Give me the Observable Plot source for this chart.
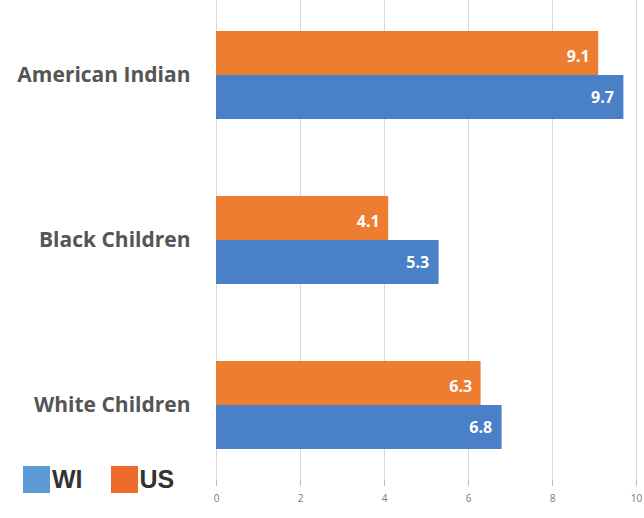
<!DOCTYPE html>
<html><head><meta charset="utf-8">
<script src="https://cdn.jsdelivr.net/npm/d3@7"></script>
<script src="https://cdn.jsdelivr.net/npm/@observablehq/plot@0.6"></script>
<style>
body{margin:0;background:#fff;}
#wrap{position:relative;width:644px;height:518px;}
#legend{position:absolute;left:23px;top:465px;display:flex;align-items:center;font-family:"Liberation Sans Narrow","Liberation Sans",Arial,sans-serif;font-size:25px;font-weight:bold;color:#333;}
#legend .sw{width:27px;height:27px;display:inline-block;margin-right:2px;}
</style></head>
<body><div id="wrap"><div id="legend"></div></div>
<script>
const categories = ["American Indian", "Black Children", "White Children"];
const seriesNames = ["WI", "US"];
const wiValues = [9.7, 5.3, 6.8];
const usValues = [9.1, 4.1, 6.3];
const xTicks = [0, 2, 4, 6, 8, 10];

const barColors = {WI: "#4a80c8", US: "#ed7d31"};
const legendColors = {WI: "#5b9bd5", US: "#ee6a2a"};

const wi = categories.map((c, i) => ({cat: c, value: wiValues[i]}));
const us = categories.map((c, i) => ({cat: c, value: usValues[i]}));

const half = 44;
const chart = Plot.plot({
  width: 644,
  height: 518,
  marginTop: 0,
  marginBottom: 38,
  marginLeft: 216,
  marginRight: 8,
  style: {background: "#fff"},
  x: {domain: [0, 10], ticks: xTicks, grid: true, label: null, tickSize: 6, tickPadding: 8},
  y: {domain: categories, paddingInner: 0.468, paddingOuter: 0.187, label: null, tickSize: 0, tickPadding: 26},
  marks: [
    Plot.barX(us, {x: "value", y: "cat", fill: barColors.US, insetBottom: half}),
    Plot.barX(wi, {x: "value", y: "cat", fill: barColors.WI, insetTop: half}),
    Plot.text(us, {x: "value", y: "cat", text: d => d.value.toFixed(1), dy: -19, dx: -9, textAnchor: "end", fill: "#fff", fontWeight: "bold", fontSize: 16}),
    Plot.text(wi, {x: "value", y: "cat", text: d => d.value.toFixed(1), dy: 22, dx: -10, textAnchor: "end", fill: "#fff", fontWeight: "bold", fontSize: 16})
  ]
});
document.getElementById("wrap").prepend(chart);

// style axes
const svg = d3.select(chart);
svg.selectAll("[aria-label='x-grid'] line, [aria-label='x-grid'] path").attr("stroke", "#d8d8d8").attr("stroke-opacity", 1);
svg.selectAll("[aria-label='x-axis tick'] path").attr("stroke", "#bbb");
svg.selectAll("[aria-label='x-axis tick label']").attr("font-size", 10).attr("fill", "#777").attr("font-family", "Open Sans, sans-serif");
svg.selectAll("[aria-label='y-axis tick label']").attr("font-size", 21).attr("font-weight", "bold").attr("fill", "#555").attr("font-family", "Open Sans, sans-serif");
svg.selectAll("[aria-label='text'] text").attr("font-family", "Open Sans, sans-serif");

const legend = document.getElementById("legend");
seriesNames.forEach((s, i) => {
  const sw = document.createElement("span");
  sw.className = "sw";
  sw.style.background = legendColors[s];
  if (i > 0) sw.style.marginLeft = "28px";
  legend.appendChild(sw);
  const t = document.createElement("span");
  t.textContent = s;
  legend.appendChild(t);
});
</script></body></html>
